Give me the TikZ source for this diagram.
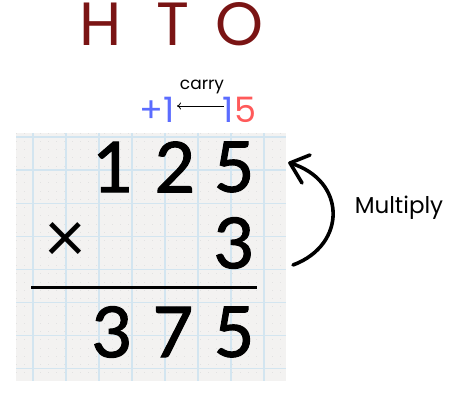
\documentclass[tikz,border=0pt]{standalone}
\usepackage{fontspec}
\usetikzlibrary{arrows.meta}
\setmainfont{Poppins}
\newfontfamily\digitfont[BoldFont=Lato, BoldFeatures={FakeBold=1.6}]{Lato}
\newfontfamily\timesfont{Lato}
\definecolor{hdred}{HTML}{7A1414}
\definecolor{cblue}{HTML}{5B6CFF}
\definecolor{cred}{HTML}{FF5A5A}
\definecolor{paper}{HTML}{F3F2F1}
\definecolor{gridblue}{HTML}{D3E5F0}
\definecolor{dotgray}{HTML}{E2E2E2}
\tikzset{
  hdr/.style={inner sep=0pt, text=hdred, font=\fontsize{61}{61}\selectfont},
  dig/.style={inner sep=0pt, font=\digitfont\bfseries\fontsize{70}{70}\selectfont},
  carrynum/.style={inner sep=0pt, font=\fontsize{35}{35}\selectfont},
  lbl/.style={inner sep=0pt, font=\fontsize{17}{17}\selectfont},
  mlbl/.style={inner sep=0pt, font=\fontsize{23}{23}\selectfont},
  bigarrow/.style={line width=3.6pt, line cap=round, line join=round},
}
\begin{document}
\begin{tikzpicture}[x=1pt,y=-1pt]
\useasboundingbox (0,0) rectangle (472,409);
% paper
\fill[paper] (16,133) rectangle (286,381);
\foreach \k in {0,...,29} {
  \draw[dotgray, line width=0.5pt, dash pattern=on 0.7pt off 7.3pt] (16,{137+8.27*\k-4.1}) -- (286,{137+8.27*\k-4.1});
}
\foreach \k in {0,...,7} {
  \draw[gridblue, line width=1.3pt] ({33+33*\k},133) -- ({33+33*\k},381);
  \draw[gridblue, line width=1.3pt] (16,{137+33.1*\k}) -- (286,{137+33.1*\k});
}
% header
\node[hdr] (h) at (101,24) {H};
\node[hdr] (t) at (173,24) {T};
\node[hdr] (o) at (239,24) {O};
% carry
\node[carrynum, text=cblue, anchor=east] (plus) at (175,109.5) {+1};
\node[carrynum, text=cblue] (c1) at (228,109.5) {1};
\node[carrynum, text=cred, anchor=west] (c5) at (234,109.5) {5};
\coordinate (cs) at (224,106);
\coordinate (ce) at (177,106);
\draw[line width=0.8pt, -{To[length=4pt,width=7pt]}] (cs) -- (ce);
\node[lbl] (carry) at (202,87) {carry};
% digits
\node[dig] (a1) at (113,167) {1};
\node[dig] (a2) at (175,167) {2};
\node[dig] (a3) at (234,167) {5};
\node[inner sep=0pt, font=\timesfont\fontsize{72}{72}\selectfont] (times) at (65,242) {×};
\node[dig] (b3) at (234,243) {3};
\coordinate (ul) at (31,288);
\coordinate (ur) at (257,288);
\draw[line width=3pt] (ul) -- (ur);
\node[dig] (r1) at (112,332) {3};
\node[dig] (r2) at (173,332) {7};
\node[dig] (r3) at (234,332) {5};
% multiply arrow
\coordinate (ms) at (293,265);
\coordinate (me) at (290,163);
\coordinate (ma) at (310,155);
\coordinate (mb) at (302,183);
\draw[bigarrow] (ms) .. controls (347,245) and (347,180) .. (me);
\draw[bigarrow] (ma) -- (me) -- (mb);
\node[mlbl] (mult) at (399,208) {Multiply};
\end{tikzpicture}
\end{document}
